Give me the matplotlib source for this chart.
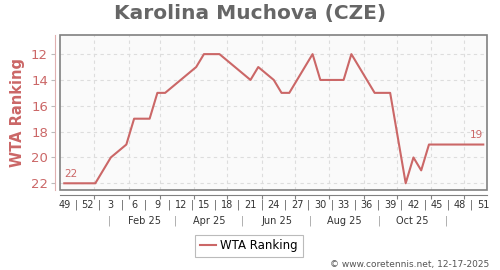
import datetime as dt
import matplotlib
matplotlib.use("Agg")
import matplotlib.pyplot as plt
from matplotlib.patches import Rectangle

# weekly ranking, x = week index counted from week 49 of 2024
weeks = [0, 4, 6, 8, 9, 11, 12, 13, 17, 18, 20, 24, 25, 27, 28, 29, 32, 33,
         36, 37, 40, 42, 44, 45, 46, 47, 54]
ranks = [22, 22, 20, 19, 17, 17, 15, 15, 13, 12, 12, 14, 13, 14, 15, 15, 12, 14,
         14, 12, 15, 15, 22, 20, 21, 19, 19]
week_labels = ["49", "52", "3", "6", "9", "12", "15", "18", "21", "24", "27",
               "30", "33", "36", "39", "42", "45", "48", "51"]
month_labels = ["Feb 25", "Apr 25", "Jun 25", "Aug 25", "Oct 25"]
yticks = [12, 14, 16, 18, 20, 22]

start = dt.date(2024, 12, 5)
red = "#cb6767"
grey = "#808080"


def wk(d):
    return (d - start).days / 7


fig = plt.figure(figsize=(5, 2.7), dpi=100)
ax = fig.add_axes([60 / 500, 1 - 190 / 270, 427 / 500, 155 / 270])
ax.set_facecolor("#fafafa")

ax.plot(weeks, ranks, color=red, lw=1.5, zorder=3)
ax.annotate(str(ranks[0]), (weeks[0], ranks[0]), xytext=(0, 3),
            textcoords="offset points", color=red, fontsize=7.5, ha="left", va="bottom")
ax.annotate(str(ranks[-1]), (weeks[-1], ranks[-1]), xytext=(0, 3),
            textcoords="offset points", color=red, fontsize=7.5, ha="right", va="bottom")

ax.set_xlim(-0.55, 54.48)
ax.set_ylim(22.52, 10.52)

# month grid lines
month_starts = [wk(dt.date(2025, m, 1)) for m in range(1, 13)]
ax.set_xticks(month_starts)
ax.set_xticklabels([])
ax.tick_params(axis="x", length=3, color=grey, direction="out")
ax.set_yticks(yticks)
ax.tick_params(axis="y", length=3, color="#bbbbbb", labelcolor=red, labelsize=9.5, pad=2)
ax.grid(True, color="#dddddd", ls=(0, (3, 3)), lw=0.8)

for s in ["top", "right"]:
    ax.spines[s].set_visible(False)
ax.spines["left"].set_position(("outward", 3.6))
ax.spines["left"].set_color("#e0b0b0")
ax.spines["bottom"].set_position(("outward", 3.6))
ax.spines["bottom"].set_color(grey)
ax.add_patch(Rectangle((0, 0), 1, 1, transform=ax.transAxes, fill=False,
                       ec=grey, lw=1.2, zorder=5, clip_on=False))

ax.set_ylabel("WTA Ranking", color=red, fontsize=10.5, fontweight="bold", labelpad=4)

# week number row
tr = ax.get_xaxis_transform()
for i, lab in enumerate(week_labels):
    ax.text(3 * i, -0.095, lab, transform=tr, ha="center", va="center",
            fontsize=7, color="#333333")
    if i < len(week_labels) - 1:
        ax.text(3 * i + 1.5, -0.095, "|", transform=tr, ha="center", va="center",
                fontsize=7, color="#555555")

# month row
for i, lab in enumerate(month_labels):
    ax.text(wk(dt.date(2025, 2 * i + 2, 15)), -0.2, lab, transform=tr,
            ha="center", va="center", fontsize=7, color="#333333")
for m in range(1, 12, 2):
    ax.text(wk(dt.date(2025, m, 15)), -0.2, "|", transform=tr, ha="center",
            va="center", fontsize=7, color="#999999")

fig.text(0.5, 1 - 14 / 270, "Karolina Muchova (CZE)", ha="center", va="center",
         fontsize=14.5, fontweight="bold", color="#666666")

leg = fig.legend(["WTA Ranking"], loc="center", bbox_to_anchor=(249 / 500, 1 - 246 / 270),
                 fontsize=8.5, frameon=True, fancybox=False, handlelength=1.3,
                 handletextpad=0.4, borderpad=0.4, edgecolor="#aaaaaa")
leg.get_frame().set_linewidth(0.8)

fig.text(489 / 500, 1 - 264 / 270, "\u00a9 www.coretennis.net, 12-17-2025", ha="right",
         va="center", fontsize=6.5, color="#555555")

fig.savefig("out.png", dpi=100)
